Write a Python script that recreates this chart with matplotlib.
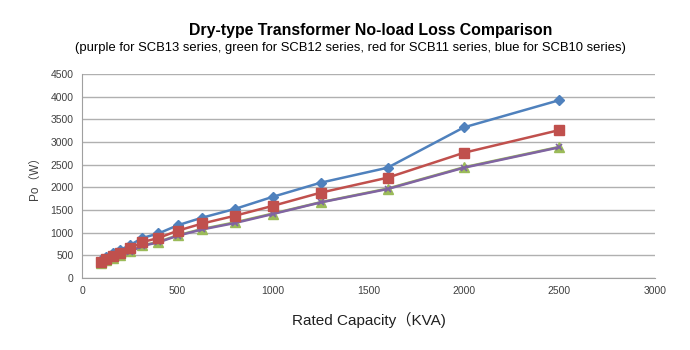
import matplotlib.pyplot as plt

capacity = [100, 125, 160, 200, 250, 315, 400, 500, 630, 800, 1000, 1250, 1600, 2000, 2500]
scb10 = [400, 470, 540, 620, 720, 880, 980, 1160, 1330, 1520, 1790, 2100, 2430, 3320, 3920]
scb11 = [360, 420, 490, 560, 650, 790, 880, 1040, 1200, 1370, 1590, 1880, 2210, 2760, 3260]
scb12 = [330, 385, 440, 505, 585, 715, 795, 940, 1080, 1225, 1420, 1670, 1970, 2440, 2890]
scb13 = [320, 375, 430, 495, 575, 705, 785, 930, 1070, 1210, 1410, 1665, 1960, 2430, 2880]

plt.rcParams["font.family"] = ["Liberation Sans", "Noto Sans CJK SC", "DejaVu Sans"]

fig = plt.figure(figsize=(6.9, 3.5), dpi=100)
ax = fig.add_axes([0.119, 0.206, 0.830, 0.583])

ax.plot(capacity, scb10, color="#4F81BD", marker="D", markersize=5, lw=1.8, zorder=4)
ax.plot(capacity, scb11, color="#C0504D", marker="s", markersize=6.5, lw=1.8, zorder=4)
ax.plot(capacity, scb12, color="#9BBB59", marker="^", markersize=7, lw=1.8, zorder=3)
ax.plot(capacity, scb13, color="#8064A2", marker="x", markersize=5, mew=1.2, lw=1.8, zorder=3)

ax.set_xlim(0, 3000)
ax.set_ylim(0, 4500)
ax.set_xticks(range(0, 3001, 500))
ax.set_yticks(range(0, 4501, 500))
ax.yaxis.grid(True, color="#b0b0b0", lw=1)
ax.set_axisbelow(True)
for side in ("top", "right"):
    ax.spines[side].set_visible(False)
for side in ("left", "bottom"):
    ax.spines[side].set_color("#a0a0a0")
ax.tick_params(axis="both", length=0, labelsize=7.5, labelcolor="#404040", pad=6)

ax.set_xlabel("Rated Capacity（KVA)", fontsize=11, color="#202020", labelpad=11)
ax.set_ylabel("Po（W）", fontsize=8.5, color="#404040", labelpad=7)

fig.text(0.537, 0.912, "Dry-type Transformer No-load Loss Comparison",
         ha="center", va="center", fontsize=11.4, fontweight="bold")
fig.text(0.508, 0.862,
         "(purple for SCB13 series, green for SCB12 series, red for SCB11 series, blue for SCB10 series)",
         ha="center", va="center", fontsize=9.4)

fig.savefig("out.png", dpi=100)
